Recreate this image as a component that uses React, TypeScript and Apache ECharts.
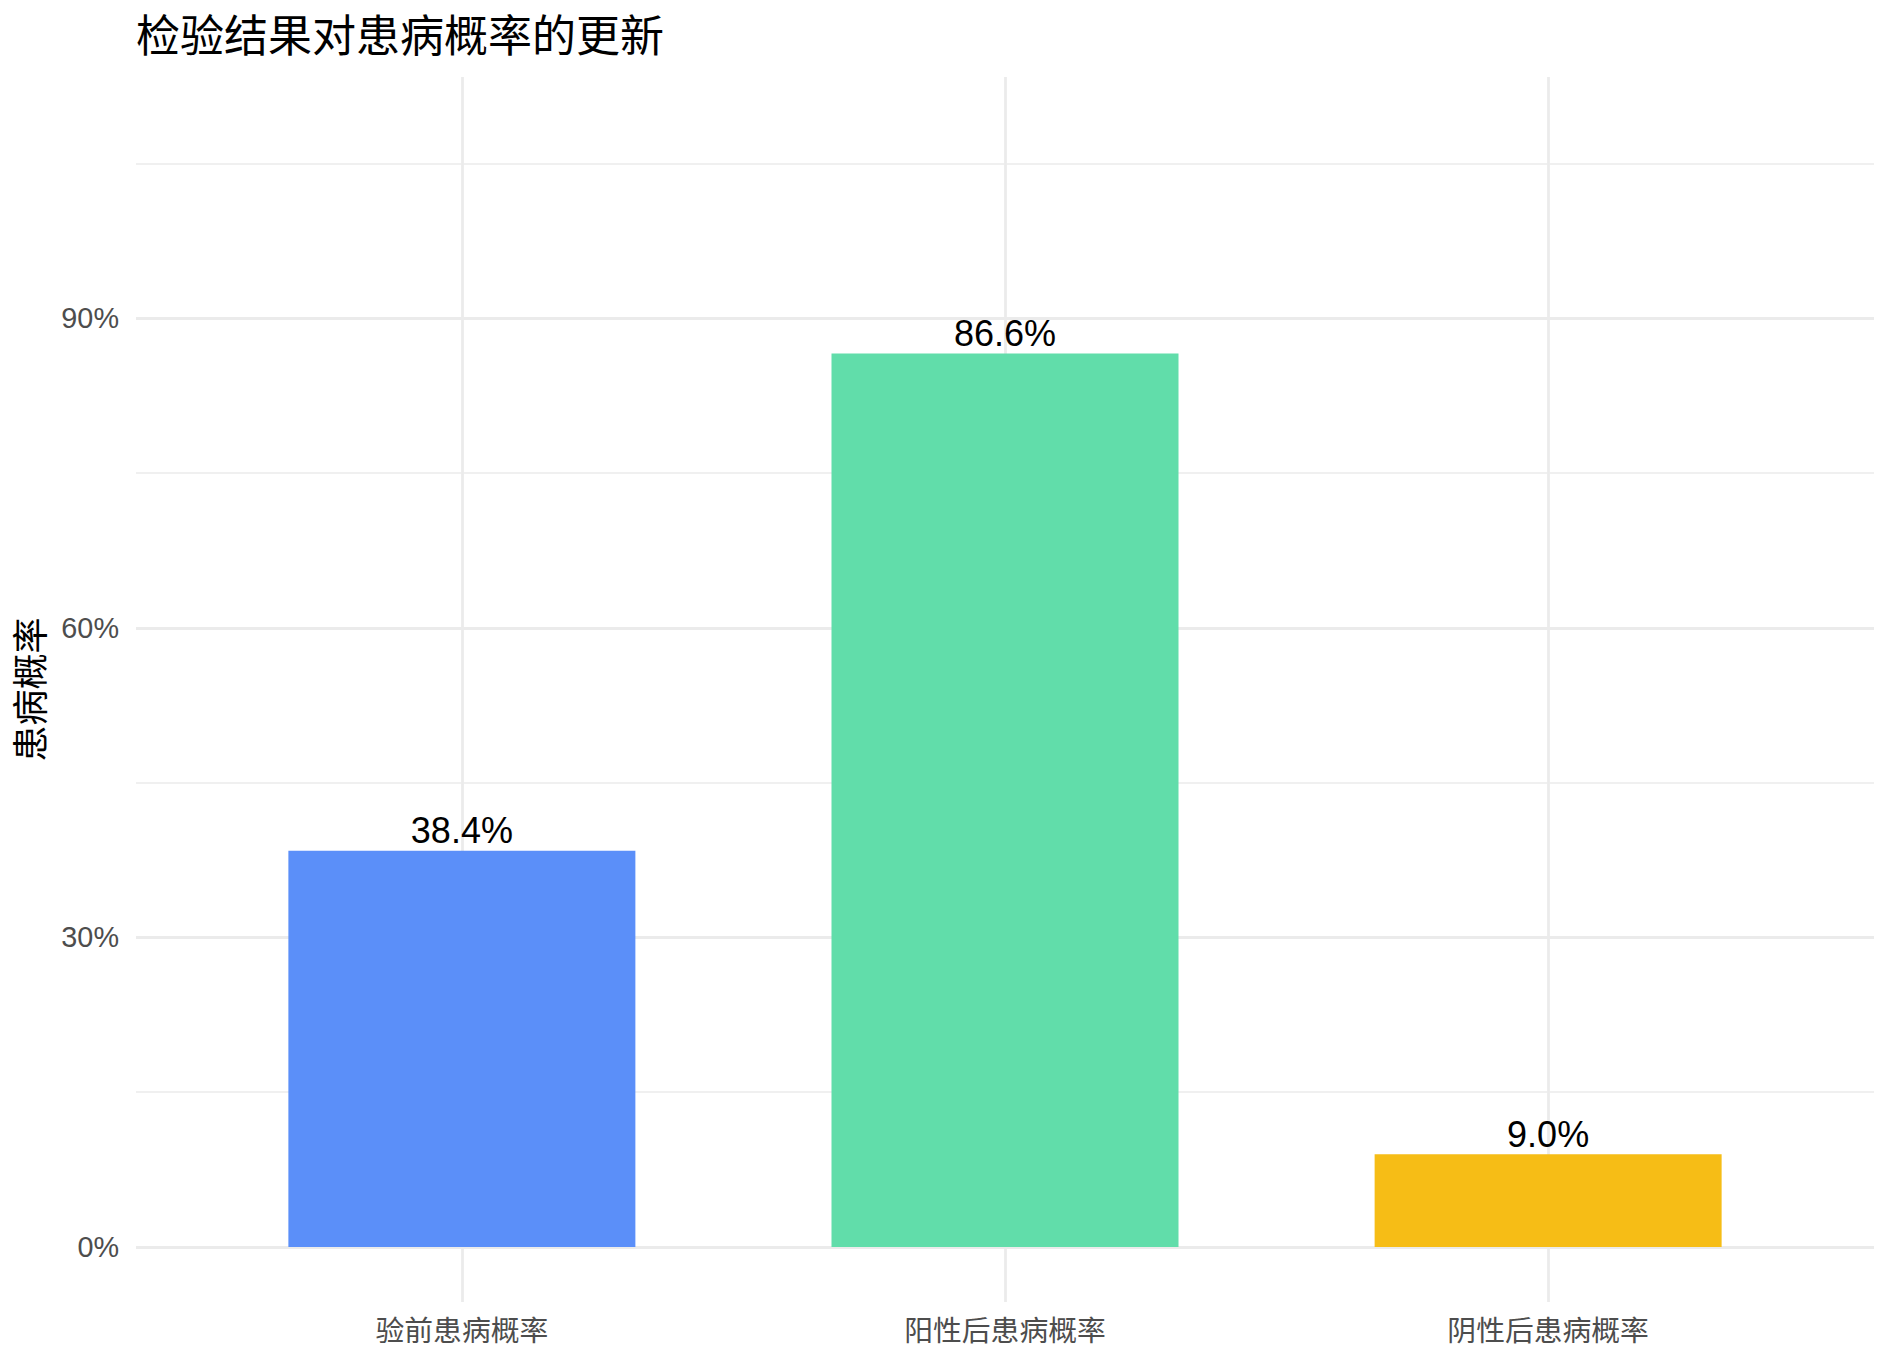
import { useEffect, useRef } from 'react';
import * as echarts from 'echarts';

const categories = ['验前患病概率', '阳性后患病概率', '阴性后患病概率'];
const probabilities = [38.4, 86.6, 9.0];
const barColors = ['#5B8FF9', '#61DDAA', '#F6BD16'];
const majorTicks = [0, 30, 60, 90];
const minorTicks = [15, 45, 75, 105];

const FONT = "'Liberation Sans', 'Noto Sans CJK SC', sans-serif";
const GRID_COLOR = '#EBEBEB';

export default function App() {
  const ref = useRef<HTMLDivElement>(null);

  useEffect(() => {
    document.body.style.margin = '0';
    const dom = ref.current;
    if (!dom) return;
    const chart = echarts.init(dom, undefined, { renderer: 'svg' });

    const positions = categories.map((_, i) => i + 1);

    chart.setOption({
      animation: false,
      backgroundColor: '#ffffff',
      textStyle: { fontFamily: FONT },
      title: {
        text: '检验结果对患病概率的更新',
        left: 136,
        top: 14,
        padding: 0,
        textStyle: { fontSize: 44, fontWeight: 'normal', color: '#000000', fontFamily: FONT },
      },
      grid: { left: 136, right: 18, top: 77, bottom: 62 },
      xAxis: {
        type: 'value',
        min: 0.4,
        max: 3.6,
        axisLine: { show: false },
        axisTick: { show: false },
        splitLine: { show: false },
        axisLabel: {
          customValues: positions,
          formatter: (v: number) => categories[Math.round(v) - 1] ?? '',
          fontSize: 28.8,
          color: '#4D4D4D',
          margin: 15,
          fontFamily: FONT,
        },
      },
      yAxis: {
        type: 'value',
        min: -5.33,
        max: 113.4,
        name: '患病概率',
        nameLocation: 'middle',
        nameRotate: 90,
        nameGap: 87,
        nameTextStyle: { fontSize: 36, color: '#000000', fontFamily: FONT },
        axisLine: { show: false },
        axisTick: { show: false },
        splitLine: { show: false },
        axisLabel: {
          customValues: majorTicks,
          formatter: (v: number) => `${v}%`,
          fontSize: 28.8,
          color: '#4D4D4D',
          margin: 17,
          fontFamily: FONT,
        },
      },
      series: [
        {
          type: 'line',
          data: [],
          z: 0,
          silent: true,
          markLine: {
            silent: true,
            symbol: 'none',
            z: 0,
            label: { show: false },
            emphasis: { disabled: true },
            data: [
              ...minorTicks.map((v) => ({ yAxis: v, lineStyle: { color: GRID_COLOR, width: 1.6, type: 'solid' } })),
              ...majorTicks.map((v) => ({ yAxis: v, lineStyle: { color: GRID_COLOR, width: 2.8, type: 'solid' } })),
              ...positions.map((v) => ({ xAxis: v, lineStyle: { color: GRID_COLOR, width: 2.8, type: 'solid' } })),
            ],
          },
        },
        {
          type: 'bar',
          z: 2,
          barWidth: 347,
          data: probabilities.map((p, i) => ({
            value: [positions[i], p],
            itemStyle: { color: barColors[i] },
          })),
          label: {
            show: true,
            position: 'top',
            distance: 2,
            fontSize: 36,
            color: '#000000',
            fontFamily: FONT,
            formatter: (p: any) => `${Number(p.value[1]).toFixed(1)}%`,
          },
        },
      ],
    } as echarts.EChartsOption);

    return () => {
      chart.dispose();
    };
  }, []);

  return <div ref={ref} style={{ width: 1892, height: 1364 }} />;
}
